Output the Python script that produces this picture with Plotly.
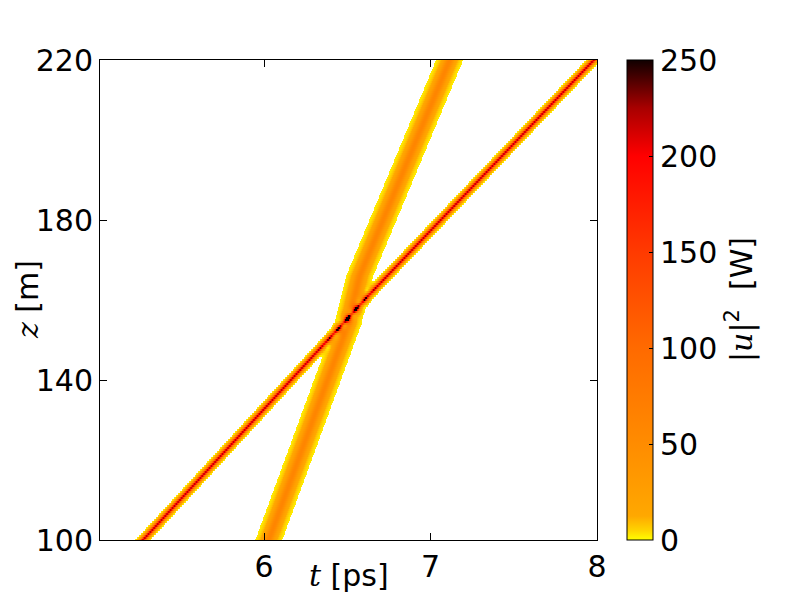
import numpy as np
import plotly.graph_objects as go

# ---- data ----
# soliton trajectories (centre time in ps at given distance z in m)
z_keys_narrow = [100, 155, 161, 220]
t_keys_narrow = [5.27, 6.49, 6.62, 7.975]
z_keys_wide = [100, 154, 166, 220]
t_keys_wide = [6.025, 6.50, 6.57, 7.11]
peak_power = [220.0, 60.0]        # W: narrow, wide
pulse_width = [0.015, 0.034]      # ps (sech width): narrow, wide
x_ticks = [6, 7, 8]
y_ticks = [100, 140, 180, 220]
cbar_ticks = [0, 50, 100, 150, 200, 250]

# ---- build field on a grid ----
t = np.arange(5.015, 8.0001, 0.006)
z = np.arange(100, 220.001, 0.5)
T, Z = np.meshgrid(t, z)
tc_n = np.interp(z, z_keys_narrow, t_keys_narrow)[:, None]
tc_w = np.interp(z, z_keys_wide, t_keys_wide)[:, None]
P_n = peak_power[0] / np.cosh((T - tc_n) / pulse_width[0]) ** 2
P_w = peak_power[1] / np.cosh((T - tc_w) / pulse_width[1]) ** 2
phase = 55.0 * T + 1.3 * Z
P_inc = P_n + P_w
P = P_inc + 2 * 0.6 * np.sqrt(P_n * P_w) * np.cos(phase)
P = np.clip(P, 0.5, 250)
P[P_inc < 2.0] = np.nan

colorscale = [
    [0.0, "#ffff00"], [0.02, "#ffd400"], [0.05, "#ffa800"], [0.2, "#ff8c00"],
    [0.4, "#ff6a00"], [0.6, "#ff3a00"], [0.8, "#ff0000"], [0.9, "#a80000"],
    [1.0, "#100000"],
]

# page has an 8 px body margin; figure is sized so the plot lands where the reference has it
W, H = 784, 584
L, T_, R, B = 92, 52, 784 - 589, 584 - 532
pw, ph = W - L - R, H - T_ - B

font = dict(family="DejaVu Sans", size=30, color="black")

fig = go.Figure(go.Heatmap(
    x=t, y=z, z=P, zmin=0, zmax=250, colorscale=colorscale, zsmooth=False,
    hoverongaps=False,
    colorbar=dict(
        x=(619 - L) / pw, xanchor="left", y=0, yanchor="bottom", len=1,
        lenmode="fraction", thickness=26, thicknessmode="pixels",
        outlinecolor="black", outlinewidth=1, tickvals=cbar_ticks,
        ticks="inside", ticklen=4, tickcolor="black",
        tickfont=font, xpad=0, ypad=0,
    ),
))

fig.update_layout(
    width=W, height=H,
    margin=dict(l=L, r=R, t=T_, b=B, autoexpand=False),
    paper_bgcolor="white", plot_bgcolor="white",
    font=font, showlegend=False,
    xaxis=dict(range=[5.015, 8.0], tickvals=x_ticks, ticks="inside", ticklen=7,
               tickcolor="black", showline=True, linecolor="black", linewidth=1,
               mirror="allticks", showgrid=False, zeroline=False, tickfont=font,
               automargin=False),
    yaxis=dict(range=[100, 220], tickvals=y_ticks, ticks="inside", ticklen=7,
               tickcolor="black", showline=True, linecolor="black", linewidth=1,
               mirror="allticks", showgrid=False, zeroline=False, tickfont=font,
               automargin=False),
    annotations=[
        dict(text='<span style="font-family:DejaVu Serif"><i>t</i></span> [ps]',
             xref="paper", yref="paper", x=0.5, y=(532 - 567) / ph,
             xanchor="center", yanchor="middle", showarrow=False, font=font),
        dict(text='<span style="font-family:DejaVu Serif"><i>z</i></span> [m]',
             xref="paper", yref="paper", x=(19 - L) / pw, y=(532 - 292) / ph,
             xanchor="center", yanchor="middle", showarrow=False, font=font,
             textangle=-90),
        dict(text='|<span style="font-family:DejaVu Serif"><i>u</i></span>|<sup>2</sup>  [W]',
             xref="paper", yref="paper", x=(732 - L) / pw, y=(532 - 292) / ph,
             xanchor="center", yanchor="middle", showarrow=False, font=font,
             textangle=-90),
    ],
)

fig.write_html("out.html")
